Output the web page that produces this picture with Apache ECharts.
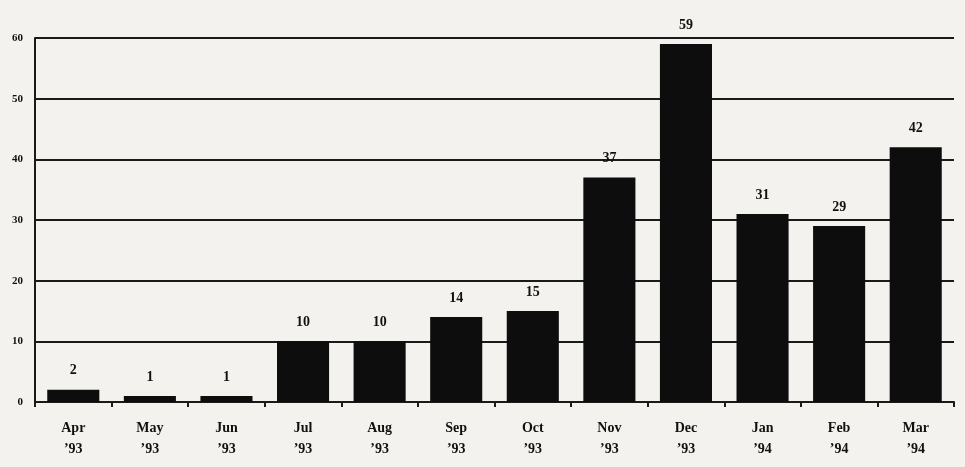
<!DOCTYPE html>
<html>
<head>
<meta charset="utf-8">
<style>
  html, body { margin: 0; padding: 0; background: #f3f2ee; }
  #chart { width: 965px; height: 467px; }
</style>
<script src="https://cdn.jsdelivr.net/npm/echarts@6/dist/echarts.min.js"></script>
</head>
<body>
<div id="chart"></div>
<script>
const months = ['Apr', 'May', 'Jun', 'Jul', 'Aug', 'Sep', 'Oct', 'Nov', 'Dec', 'Jan', 'Feb', 'Mar']
const years = ['’93', '’93', '’93', '’93', '’93', '’93', '’93', '’93', '’93', '’94', '’94', '’94']
const counts = [2, 1, 1, 10, 10, 14, 15, 37, 59, 31, 29, 42]

const categories = months.map((m, i) => m + '\n' + years[i])
const serif = '"Liberation Serif", "DejaVu Serif", serif'

const chart = echarts.init(document.getElementById('chart'))
chart.setOption({
  backgroundColor: '#f3f2ee',
  animation: false,
  grid: {
    left: 35,
    right: 11,
    top: 38,
    bottom: 65
  },
  xAxis: {
    type: 'category',
    data: categories,
    axisLine: { lineStyle: { color: '#1a1a1a', width: 2 } },
    axisTick: { show: true, length: 5, lineStyle: { color: '#1a1a1a', width: 2 } },
    axisLabel: {
      color: '#111',
      fontFamily: serif,
      fontWeight: 'bold',
      fontSize: 14,
      lineHeight: 21,
      margin: 16
    }
  },
  yAxis: {
    type: 'value',
    min: 0,
    max: 60,
    interval: 10,
    axisLine: { show: true, lineStyle: { color: '#1a1a1a', width: 2 } },
    axisTick: { show: false },
    axisLabel: {
      color: '#111',
      fontFamily: serif,
      fontWeight: 'bold',
      fontSize: 11,
      margin: 12
    },
    splitLine: { lineStyle: { color: '#1a1a1a', width: 2 } }
  },
  series: [{
    type: 'bar',
    data: counts,
    barWidth: '68%',
    itemStyle: { color: '#0d0d0d' },
    label: {
      show: true,
      position: 'top',
      distance: 12,
      color: '#111',
      fontFamily: serif,
      fontWeight: 'bold',
      fontSize: 14
    }
  }]
})
</script>
</body>
</html>
